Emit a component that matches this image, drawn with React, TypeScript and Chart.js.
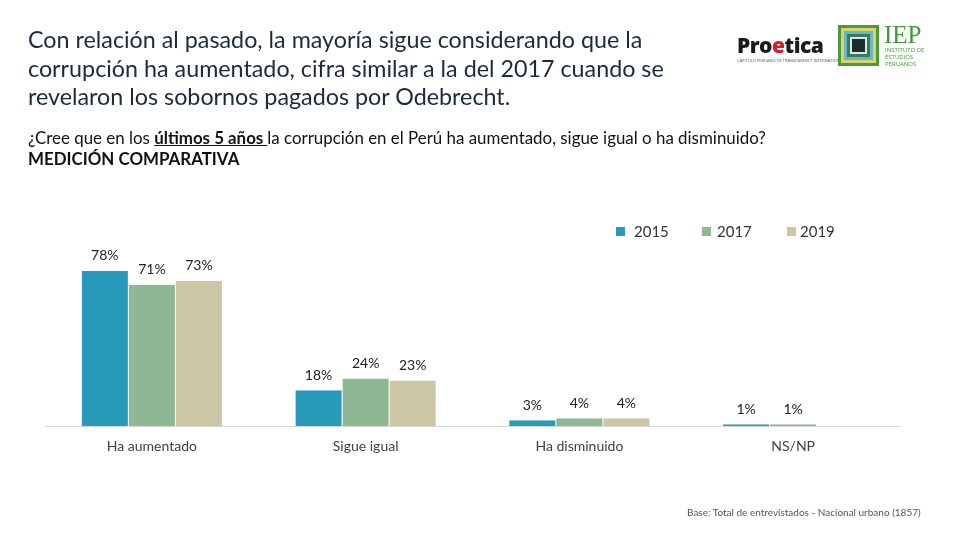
import React, { useEffect, useRef } from "react";
import { Chart, registerables } from "chart.js";

Chart.register(...registerables);

const categories = ["Ha aumentado", "Sigue igual", "Ha disminuido", "NS/NP"];
const seriesNames = ["2015", "2017", "2019"];
const values2015 = [78, 18, 3, 1];
const values2017 = [71, 24, 4, 1];
const values2019 = [73, 23, 4, 0];
const labels2015 = ["78%", "18%", "3%", "1%"];
const labels2017 = ["71%", "24%", "4%", "1%"];
const labels2019 = ["73%", "23%", "4%", ""];
const colors = ["#2a9abb", "#8eb894", "#cdc6a5"];

const FONT = "Lato, 'Open Sans', sans-serif";

const labelPlugin = {
  id: "barLabels",
  afterDatasetsDraw(chart: any) {
    const ctx = chart.ctx;
    const allLabels = [labels2015, labels2017, labels2019];
    ctx.save();
    ctx.font = `14px ${FONT}`;
    ctx.fillStyle = "#222";
    ctx.textAlign = "center";
    ctx.textBaseline = "middle";
    chart.data.datasets.forEach((ds: any, i: number) => {
      const meta = chart.getDatasetMeta(i);
      meta.data.forEach((bar: any, j: number) => {
        const t = allLabels[i][j];
        if (!t) return;
        ctx.fillText(t, bar.x, bar.y - 15);
      });
    });
    ctx.restore();
  },
};

function ChartCanvas() {
  const ref = useRef<HTMLCanvasElement | null>(null);
  useEffect(() => {
    if (!ref.current) return;
    const chart = new Chart(ref.current, {
      type: "bar",
      data: {
        labels: categories,
        datasets: [values2015, values2017, values2019].map((v, i) => ({
          label: seriesNames[i],
          data: v,
          backgroundColor: colors[i],
          borderColor: "#ffffff",
          borderWidth: { left: 0.5, right: 0.5, top: 0, bottom: 0 },
          barPercentage: 1,
          categoryPercentage: 0.66,
        })),
      },
      options: {
        animation: false,
        responsive: false,
        maintainAspectRatio: false,
        layout: { padding: { left: 45, right: 60, top: 247, bottom: 73 } },
        plugins: { legend: { display: false }, tooltip: { enabled: false } },
        scales: {
          x: {
            grid: { display: false, drawTicks: false },
            border: { display: true, color: "#d9d9d9", width: 1 },
            ticks: { color: "#404040", font: { family: FONT, size: 14 }, padding: 12 },
          },
          y: { display: false, min: 0, max: 90 },
        },
      },
      plugins: [labelPlugin],
    });
    return () => chart.destroy();
  }, []);
  return (
    <canvas
      ref={ref}
      width={960}
      height={540}
      style={{ position: "absolute", left: 0, top: 0, width: 960, height: 540 }}
    />
  );
}

export default function App() {
  useEffect(() => {
    document.body.style.margin = "0";
  }, []);
  const legendPos = [
    { mx: 616, tx: 634 },
    { mx: 702, tx: 717 },
    { mx: 787, tx: 800 },
  ];
  return (
    <div style={{ position: "relative", width: 960, height: 540, background: "#fff", overflow: "hidden", fontFamily: FONT }}>
      <ChartCanvas />
      <div style={{ position: "absolute", left: 28, top: 25, fontSize: 23.3, lineHeight: "28.5px", color: "#1c2a3c", width: 720, whiteSpace: "nowrap" }}>
        Con relación al pasado, la mayoría sigue considerando que la<br />
        corrupción ha aumentado, cifra similar a la del 2017 cuando se<br />
        revelaron los sobornos pagados por Odebrecht.
      </div>
      <div style={{ position: "absolute", left: 28, top: 127, fontSize: 16.9, lineHeight: "21px", color: "#111", width: 900, whiteSpace: "nowrap" }}>
        ¿Cree que en los <b style={{ textDecoration: "underline" }}>últimos 5 años </b>la corrupción en el Perú ha aumentado, sigue igual o ha disminuido?<br />
        <b>MEDICIÓN COMPARATIVA</b>
      </div>
      {seriesNames.map((n, i) => (
        <React.Fragment key={n}>
          <div style={{ position: "absolute", left: legendPos[i].mx, top: 227, width: 9, height: 9, background: colors[i] }} />
          <div style={{ position: "absolute", left: legendPos[i].tx, top: 222, fontSize: 15, color: "#333" }}>{n}</div>
        </React.Fragment>
      ))}
      <div style={{ position: "absolute", left: 687, top: 506, fontSize: 10, color: "#555" }}>
        Base: Total de entrevistados - Nacional urbano (1857)
      </div>
      {/* Proetica logo */}
      <div style={{ position: "absolute", left: 737, top: 31, fontSize: 21, fontWeight: 900, color: "#1a1a1a", fontFamily: "'Open Sans', sans-serif", letterSpacing: -0.5 }}>
        Pro<span style={{ color: "#d11f2a" }}>e</span>tica
      </div>
      <div style={{ position: "absolute", left: 737, top: 58, fontSize: 4, color: "#555", fontFamily: "'Open Sans', sans-serif", whiteSpace: "nowrap" }}>
        CAPÍTULO PERUANO DE TRANSPARENCY INTERNATIONAL
      </div>
      {/* IEP logo */}
      <div style={{ position: "absolute", left: 838, top: 25, width: 41, height: 41, boxSizing: "border-box", border: "3px solid #4a9a3c", background: "#d9d36a" }}>
        <div style={{ position: "absolute", left: 3, top: 3, right: 3, bottom: 3, border: "3px solid #6fb3c7", background: "#2f7f5a" }}>
          <div style={{ position: "absolute", left: 3, top: 3, right: 3, bottom: 3, border: "2px solid #e6e6e6", background: "#1c2e2e" }} />
        </div>
      </div>
      <div style={{ position: "absolute", left: 884, top: 21, fontSize: 25, fontFamily: "'Liberation Serif', serif", color: "#3f9a3a" }}>IEP</div>
      <div style={{ position: "absolute", left: 885, top: 47, fontSize: 6, lineHeight: "7px", color: "#3f9a3a", fontFamily: "'Open Sans', sans-serif" }}>
        INSTITUTO DE<br />ESTUDIOS<br />PERUANOS
      </div>
    </div>
  );
}
